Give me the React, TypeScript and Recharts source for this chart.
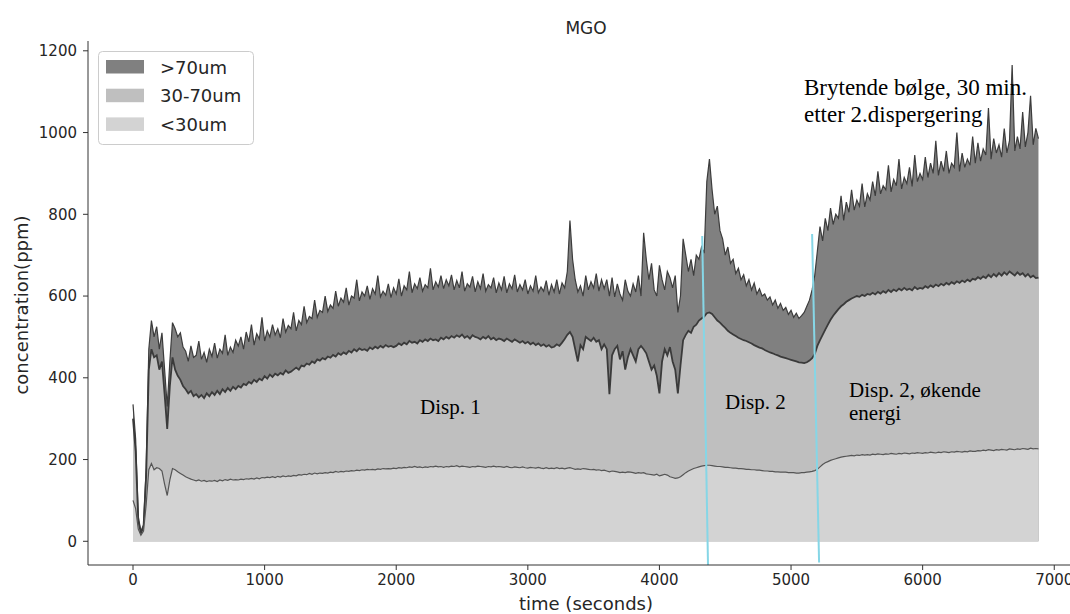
import React from 'react';
import { ComposedChart, Area, XAxis, YAxis, ReferenceLine } from 'recharts';

// time grid step (seconds)
const TIME_STEP = 20;

// cumulative boundaries (ppm), one value every 20 s
// top of the >70um layer (total)
const total = [
  335, 250, 60, 25, 40, 180, 470, 540, 500, 525, 470, 510, 420, 330, 440, 535, 520, 500, 510, 475,
  465, 440, 478, 450, 455, 490, 445, 462, 438, 470, 452, 485, 448, 470, 460, 505, 455, 475, 462, 492,
  478, 500, 470, 512, 488, 530, 480, 508, 495, 548, 490, 515, 500, 530, 505, 520, 498, 545, 512, 528,
  520, 560, 515, 540, 530, 575, 535, 550, 545, 590, 548, 565, 560, 600, 562, 578, 570, 612, 575, 595,
  585, 620, 578, 600, 595, 640, 588, 610, 600, 625, 592, 618, 605, 650, 598, 612, 602, 630, 596, 620,
  605, 642, 600, 625, 615, 660, 608, 630, 618, 645, 612, 628, 620, 668, 615, 635, 622, 650, 618, 640,
  625, 652, 615, 638, 620, 660, 612, 630, 622, 648, 610, 635, 618, 655, 612, 628, 620, 645, 608, 632,
  615, 648, 608, 630, 618, 652, 610, 628, 615, 640, 605, 625, 612, 650, 608, 622, 612, 638, 602, 628,
  610, 640, 605, 632, 620, 660, 785, 690, 640, 610, 625, 600, 650, 615, 635, 620, 655, 612, 640, 618,
  640, 600, 645, 598, 630, 605, 590, 640, 612, 600, 630, 610, 650, 600, 755, 690, 640, 680, 615, 600,
  675, 640, 615, 660, 645, 620, 650, 560, 600, 740, 700, 660, 690, 650, 700, 690, 720, 705, 880, 935,
  860, 800, 820, 760, 740, 700, 720, 680, 690, 655, 668, 640, 652, 625, 640, 615, 632, 605, 618, 600,
  605, 590, 598, 578, 590, 570, 582, 565, 572, 555, 565, 548, 558, 545, 552, 560, 575, 590, 615, 650,
  710, 770, 735, 790, 760, 815, 775, 800, 790, 845, 785, 830, 805, 860, 810, 835, 820, 875, 818, 850,
  835, 880, 845, 905, 850, 870, 860, 920, 855, 885, 870, 935, 862, 890, 875, 915, 868, 945, 880, 900,
  885, 940, 890, 925, 900, 980, 895, 930, 905, 955, 900, 925, 915, 1000, 905, 950, 915, 935, 920, 990,
  925, 975, 930, 960, 945, 1060, 935, 985, 950, 970, 940, 1010, 950, 980, 1165, 955, 990, 960, 1050, 965,
  1000, 1090, 970, 1010, 985,
];

// top of the 30-70um layer
const upTo70 = [
  300, 220, 50, 20, 35, 160, 420, 470, 450, 455, 420, 440, 360, 275, 380, 450, 420, 405, 395, 380,
  372, 362, 368, 355, 360, 352, 358, 350, 362, 355, 365, 358, 368, 360, 372, 365, 375, 368, 378, 372,
  380, 376, 385, 382, 390, 386, 395, 390, 398, 394, 404, 398, 408, 402, 410, 406, 412, 408, 418, 412,
  415, 420, 425, 420, 430, 428, 435, 432, 440, 436, 445, 442, 448, 445, 452, 449, 456, 452, 460, 456,
  462, 458, 466, 462, 470, 465, 472, 468, 470, 466, 474, 470, 476, 472, 478, 474, 480, 476, 478, 475,
  478, 484, 480, 486, 482, 490, 486, 488, 484, 492, 488, 494, 490, 496, 492, 494, 490, 498, 494, 500,
  496, 502, 498, 504, 500, 506, 498, 502, 496, 504, 500, 498, 494, 500, 496, 502, 494, 498, 492, 496,
  494, 490, 496, 492, 488, 494, 490, 486, 490, 484, 488, 482, 486, 480, 484, 478, 482, 476, 480, 474,
  476, 482, 478, 486, 495, 505, 512, 500, 470, 440, 480, 470, 500, 495, 490, 498, 488, 492, 470, 482,
  470, 360, 455, 470, 478, 445, 465, 420, 450, 470, 455, 440, 470, 478, 470, 460, 440, 420, 430, 405,
  362, 440, 470, 455, 475, 440, 420, 362, 430, 492, 505, 515, 510, 525, 530, 540, 545, 550, 558, 560,
  556, 548, 540, 535, 528, 522, 515, 510, 506, 502, 498, 495, 492, 490, 487, 484, 480, 477, 474, 472,
  468, 465, 462, 460, 457, 455, 452, 450, 448, 446, 444, 442, 440, 438, 437, 436, 438, 442, 448, 458,
  478, 492, 505, 518, 530, 542, 552, 560, 568, 575, 580, 586, 590, 594, 597, 600, 598, 603, 600, 605,
  603, 608, 604, 610, 606, 612, 608, 615, 610, 616, 612, 618, 614, 620, 615, 618, 614, 622, 617, 620,
  618, 624, 620, 626, 622, 628, 624, 630, 626, 632, 628, 634, 630, 636, 632, 638, 634, 640, 636, 642,
  640, 646, 642, 648, 644, 652, 646, 654, 648, 656, 650, 658, 652, 660, 655, 650, 658, 652, 656, 648,
  654, 646, 650, 644, 645,
];

// top of the <30um layer
const under30 = [
  100, 80, 30, 15, 25, 90, 175, 190, 175, 180, 178, 172, 140, 112, 150, 178, 175, 170, 166, 162,
  158, 155, 152, 150, 148, 150, 147, 149, 146, 148, 147, 149, 146, 150, 148, 151, 149, 152, 150, 151,
  150, 152, 151, 153, 152, 154, 152, 155, 153, 156, 155, 157, 156, 158, 156, 159, 157, 160, 158, 160,
  159, 161, 160, 163, 162, 164, 163, 166, 164, 167, 165, 167, 166, 168, 167, 169, 168, 171, 169, 171,
  170, 172, 171, 173, 172, 174, 173, 175, 174, 176, 175, 176, 175, 177, 176, 178, 177, 178, 177, 179,
  178, 180, 179, 181, 180, 182, 181, 183, 181, 182, 180, 182, 181, 183, 182, 184, 182, 183, 181, 183,
  182, 184, 183, 185, 182, 184, 183, 182, 181, 183, 182, 184, 183, 182, 181, 183, 182, 184, 182, 183,
  182, 181, 183, 181, 180, 182, 181, 180, 182, 180, 179, 181, 180, 179, 181, 179, 178, 180, 178, 179,
  178, 180, 178, 179, 177, 179, 180, 178, 176, 177, 176, 178, 177, 176, 175, 176, 174, 175, 173, 174,
  172, 170, 172, 171, 170, 168, 169, 168, 170, 169, 168, 166, 168, 167, 168, 165, 164, 163, 162, 164,
  160, 162, 164, 162, 158, 156, 154, 155, 158, 163, 168, 172, 175, 178, 180, 182, 184, 185, 186, 186,
  185, 184, 183, 183, 182, 181, 181, 180, 179, 179, 178, 178, 177, 176, 176, 175, 175, 174, 174, 173,
  172, 172, 171, 171, 170, 170, 169, 169, 169, 168, 168, 168, 167, 167, 168, 168, 169, 170, 171, 173,
  176, 182, 188, 192, 195, 198, 200, 202, 204, 206, 207, 208, 209, 210, 209, 211, 210, 212, 211, 212,
  211, 213, 212, 214, 213, 212, 214, 213, 215, 214, 213, 215, 214, 216, 215, 214, 216, 215, 217, 216,
  215, 217, 216, 218, 217, 216, 218, 217, 219, 218, 217, 219, 218, 220, 219, 218, 220, 219, 221, 220,
  220, 222, 221, 223, 222, 224, 223, 222, 224, 223, 225, 224, 223, 226, 225, 224, 226, 225, 227, 226,
  225, 228, 226, 227, 226,
];

const seriesNames = ['>70um', '30-70um', '<30um'];
const seriesColors = ['#808080', '#bfbfbf', '#d3d3d3'];
const seriesStrokes = ['#3c3c3c', '#3a3a3a', '#555555'];

const xTicks = [0, 1000, 2000, 3000, 4000, 5000, 6000, 7000];
const yTicks = [0, 200, 400, 600, 800, 1000, 1200];
const xDomain = [-342, 7226];
const yDomain = [-58, 1224];

// annotation markers (time, ppm)
const marker1 = [{ x: 4325, y: 747 }, { x: 4369, y: -58 }];
const marker2 = [{ x: 5160, y: 752 }, { x: 5213, y: -52 }];

const data = total.map((v, i) => ({
  t: i * TIME_STEP,
  total: v,
  mid: upTo70[i],
  low: under30[i],
}));

const tickStyle = { fontFamily: 'DejaVu Sans', fontSize: 15, fill: '#262626' };
const serif = 'Liberation Serif';

export default function App() {
  return (
    <div style={{ position: 'absolute', left: 0, top: 0, width: 1070, height: 614, overflow: 'hidden', background: '#fff' }}>
      <ComposedChart width={1100} height={614} data={data} margin={{ top: 41, right: 16, bottom: 19, left: 0 }}>
        <XAxis
          dataKey="t"
          type="number"
          domain={xDomain}
          ticks={xTicks}
          tickSize={5}
          tickMargin={4}
          height={30}
          tick={tickStyle}
          axisLine={{ stroke: '#333' }}
          tickLine={{ stroke: '#333' }}
          allowDataOverflow
        />
        <XAxis
          xAxisId="top"
          orientation="top"
          dataKey="t"
          type="number"
          domain={xDomain}
          height={0}
          tick={false}
          tickLine={false}
          axisLine={{ stroke: '#333' }}
        />
        <YAxis
          type="number"
          domain={yDomain}
          ticks={yTicks}
          width={88}
          tickSize={5}
          tickMargin={6}
          tick={tickStyle}
          axisLine={{ stroke: '#333' }}
          tickLine={{ stroke: '#333' }}
          allowDataOverflow
        />
        <Area type="linear" dataKey="total" name={seriesNames[0]} fill={seriesColors[0]} fillOpacity={1}
          stroke={seriesStrokes[0]} strokeWidth={1.2} baseValue={0} isAnimationActive={false} dot={false} activeDot={false} />
        <Area type="linear" dataKey="mid" name={seriesNames[1]} fill={seriesColors[1]} fillOpacity={1}
          stroke={seriesStrokes[1]} strokeWidth={1.8} baseValue={0} isAnimationActive={false} dot={false} activeDot={false} />
        <Area type="linear" dataKey="low" name={seriesNames[2]} fill={seriesColors[2]} fillOpacity={1}
          stroke={seriesStrokes[2]} strokeWidth={1.2} baseValue={0} isAnimationActive={false} dot={false} activeDot={false} />
        <ReferenceLine segment={marker1} stroke="#86d6e6" strokeWidth={2} ifOverflow="visible" />
        <ReferenceLine segment={marker2} stroke="#86d6e6" strokeWidth={2} ifOverflow="visible" />
      </ComposedChart>

      <svg width={1070} height={614} style={{ position: 'absolute', left: 0, top: 0, pointerEvents: 'none' }}>
        <text x={586} y={34} textAnchor="middle" fontFamily="DejaVu Sans" fontSize={17} fill="#262626">MGO</text>
        <text transform="translate(28,305) rotate(-90)" textAnchor="middle" fontFamily="DejaVu Sans" fontSize={18} fill="#262626">concentration(ppm)</text>
        <text x={586} y={610} textAnchor="middle" fontFamily="DejaVu Sans" fontSize={18} fill="#262626">time (seconds)</text>

        <rect x={98.5} y={51.5} width={155} height={93} rx={4} fill="#ffffff" fillOpacity={0.8} stroke="#cccccc" />
        {seriesNames.map((n, i) => (
          <g key={n}>
            <rect x={106} y={60 + i * 28.7} width={38} height={13.5} fill={seriesColors[i]} />
            <text x={160} y={73.5 + i * 28.7} fontFamily="DejaVu Sans" fontSize={18} fill="#262626">{n}</text>
          </g>
        ))}

        <text x={420} y={414} fontFamily={serif} fontSize={21} fill="#000">Disp. 1</text>
        <text x={725} y={409} fontFamily={serif} fontSize={21} fill="#000">Disp. 2</text>
        <text x={849} y={397} fontFamily={serif} fontSize={21} fill="#000">Disp. 2, økende</text>
        <text x={849} y={420} fontFamily={serif} fontSize={21} fill="#000">energi</text>
        <text x={804} y={95} fontFamily={serif} fontSize={23} fill="#000">Brytende bølge, 30 min.</text>
        <text x={804} y={122} fontFamily={serif} fontSize={23} fill="#000">etter 2.dispergering</text>
      </svg>
    </div>
  );
}
